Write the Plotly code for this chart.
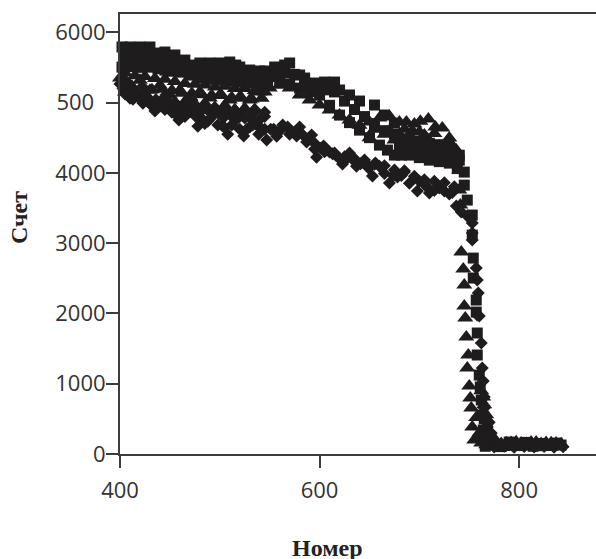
import plotly.graph_objects as go

square_x = [402,410,420,430,435,445,455,465,470,480,490,500,510,516,520,530,535,540,545,550,555,565,570,580,585,595,605,615,620,630,640,655,665,675,
            402,415,430,445,460,480,500,520,538,560,580,600,620,640,660,675,690,710,730,745,745,748,753,753,
            408,422,438,452,470,490,510,530,548,570,590,610,630,650,668,682,700,720,738,
            405,415,425,435,445,455,465,475,485,495,505,515,525,535,545,555,565,575,585,595,605,615,625,635,645,655,665,675,685,695,
            690,700,710,720,730,740,
            680,690,700,710,720,730,740,
            754,754,757,757,758,758,760,761,762,763,764,
            765,768,762,767,772,
            766,774,782,790,798,806,814,822,830,838,
            770,778,786,794,802,810,818,826,834,842]
square_y = [5790,5790,5790,5790,5704,5718,5676,5604,5533,5562,5562,5562,5576,5533,5505,5462,5391,5448,5448,5391,5505,5533,5562,5391,5348,5277,5291,5291,5178,5107,5021,4964,4822,4708,
            5503,5517,5503,5461,5432,5347,5318,5290,5262,5318,5205,5105,4821,4607,4394,4252,4252,4180,4138,4010,3825,3612,3399,3114,
            5510,5500,5480,5445,5390,5330,5305,5275,5290,5262,5155,4960,4714,4500,4323,4252,4216,4159,4060,
            5650,5650,5650,5600,5590,5570,5500,5470,5460,5450,5450,5430,5380,5330,5320,5370,5420,5400,5300,5200,5180,5150,5020,4900,4800,4700,4600,4550,4450,4420,
            4480,4450,4420,4400,4350,4250,
            4350,4340,4330,4300,4280,4260,4180,
            2787,2503,2190,2019,1721,1408,1123,953,768,555,341,
            500,350,250,150,200,
            110,150,105,170,120,165,110,150,120,155,
            128,135,120,130,125,128,118,132,125,128]

triangle_x = [400,410,420,430,440,450,460,470,480,490,500,510,520,530,540,550,560,570,580,590,600,610,620,630,640,650,660,670,680,687,695,701,709,716,723,730,737,740,740,741,
              675,690,705,720,735,
              405,415,425,435,445,455,465,475,485,495,505,515,525,535,
              405,415,425,435,445,455,465,475,485,495,505,515,525,535,545,
              412,422,432,442,452,462,472,482,492,502,512,522,532,542,
              650,665,680,693,708,728,
              655,670,685,700,715,730,
              742,744,745,745,746,747,749,748,750,751,752,753,755,
              757,760,765,767,762,764,765,
              762,772,782,792,802,812,822,832,842,
              767,777,787,797,807,817,827,837]
triangle_y = [5347,5247,5318,5176,5247,5105,5176,5077,5148,5063,5105,5034,5077,5034,5148,5205,5247,5205,5105,5034,4963,4892,4821,4750,4678,4721,4778,4806,4721,4721,4693,4735,4764,4650,4636,4494,4323,4039,3754,3541,
              4465,4400,4536,4380,4250,
              5150,5090,5130,5010,5080,4980,5010,4950,4990,4930,4960,4900,4920,4900,
              5420,5380,5370,5340,5330,5300,5270,5260,5250,5220,5230,5200,5200,5170,5150,
              5230,5230,5180,5190,5170,5130,5130,5110,5100,5100,5070,5060,5050,5060,
              4500,4550,4550,4600,4480,4300,
              4620,4600,4620,4580,4560,4440,
              2872,2631,2403,2104,1934,1664,1408,1223,967,796,654,384,199,
              520,300,700,560,900,811,540,
              156,170,150,165,158,172,150,160,145,
              130,180,160,175,150,170,165,155]

diamond_x = [400,405,407,413,420,426,432,440,446,452,459,467,472,478,488,494,502,508,516,524,530,536,542,547,554,560,568,577,580,587,592,597,604,610,616,623,630,637,645,653,660,670,678,685,698,705,710,720,730,737,742,748,
             403,410,416,423,429,436,443,449,456,463,470,476,483,491,498,505,512,520,527,533,539,545,551,557,563,570,576,583,589,595,601,607,613,620,627,634,641,649,656,665,674,682,690,700,708,715,725,733,
             410,420,430,440,450,460,470,480,490,500,510,520,530,540,
             435,445,455,465,475,485,495,505,515,525,535,545,
             405,415,425,435,445,455,465,475,485,495,505,515,525,535,545,
             595,605,615,625,635,645,655,665,675,685,695,705,715,725,735,
             753,753,753,757,758,759,758,760,762,763,764,765,765,768,770,
             770,772,768,775,
             775,785,795,805,815,825,835,844]
diamond_y = [5262,5318,5162,5048,5091,5176,4949,5006,5105,4863,4750,4906,5034,4664,4735,4849,4678,4550,4750,4522,4650,4693,4622,4465,4620,4593,4650,4522,4650,4437,4536,4223,4380,4295,4252,4124,4280,4095,4181,3953,4095,3854,3939,4010,3740,3840,3712,3783,3697,3527,3441,3384,
             5200,5100,5130,4990,5050,5040,4960,5000,4830,4830,4870,4800,4760,4780,4680,4640,4680,4620,4620,4680,4550,4620,4620,4520,4680,4550,4590,4540,4490,4420,4350,4330,4270,4200,4200,4180,4130,4070,4140,3990,3960,3960,3850,3880,3790,3750,3740,3720,
             5060,5050,4990,4950,4950,4920,4880,4860,4860,4830,4830,4800,4780,4760,
             4880,4900,4960,4800,4900,4700,4910,4800,4850,4780,4900,4800,
             5120,5150,5080,5020,5060,5000,4990,4970,4950,4930,4910,4890,4890,4870,4860,
             4340,4300,4280,4230,4200,4150,4120,4100,4040,4030,3950,3900,3880,3860,3800,
             3285,3143,3043,2645,2474,2290,1977,1963,1578,1223,1038,811,654,384,242,
             450,300,250,200,
             100,110,95,105,100,108,96,104]

tick_y = [0,1000,2000,3000,4000,5000,6000]
tick_y_text = ["0","1000","2000","3000","4000","500\u00a0\u00a0","6000"]
tick_x = [400,600,800]

INK = "#1f1c1d"
AXIS = "#3c3c3c"

fig = go.Figure()
fig.add_trace(go.Scatter(x=square_x, y=square_y, mode="markers", cliponaxis=False,
                         marker=dict(symbol="square", size=11, color=INK), name="Square"))
fig.add_trace(go.Scatter(x=triangle_x, y=triangle_y, mode="markers", cliponaxis=False,
                         marker=dict(symbol="triangle-up", size=14, color=INK), name="Triangle"))
fig.add_trace(go.Scatter(x=diamond_x, y=diamond_y, mode="markers", cliponaxis=False,
                         marker=dict(symbol="diamond", size=10, color=INK), name="Diamond"))

fig.update_layout(
    width=596, height=559, showlegend=False,
    paper_bgcolor="white", plot_bgcolor="white",
    margin=dict(l=120, r=0, t=14, b=105),
    font=dict(family="Open Sans", size=22, color="#333333"),
    xaxis=dict(range=[400, 877], tickvals=tick_x, ticks="outside", ticklen=12, tickwidth=2, automargin=False,
               tickcolor=AXIS, showline=True, linecolor=AXIS, linewidth=2, mirror=True,
               showgrid=False, zeroline=False, ticklabelstandoff=4),
    yaxis=dict(range=[0, 6259], tickvals=tick_y, ticktext=tick_y_text, ticks="outside", ticklen=12, automargin=False,
               tickwidth=2, tickcolor=AXIS, showline=True, linecolor=AXIS, linewidth=2,
               showgrid=False, zeroline=False, ticklabelstandoff=-4),
    annotations=[
        dict(text="<b>Номер</b>", xref="paper", yref="paper", x=(327-120)/476, y=-(548-454)/440,
             xanchor="center", yanchor="middle", showarrow=False,
             font=dict(family="Liberation Serif", size=24, color="#222222")),
        dict(text="<b>Счет</b>", xref="paper", yref="paper", x=(19-120)/476, y=(454-218)/440,
             xanchor="center", yanchor="middle", showarrow=False, textangle=-90,
             font=dict(family="Liberation Serif", size=24, color="#222222")),
    ],
)
fig.write_html("out.html", config={"displayModeBar": False}, post_script="document.body.style.margin='0';")
